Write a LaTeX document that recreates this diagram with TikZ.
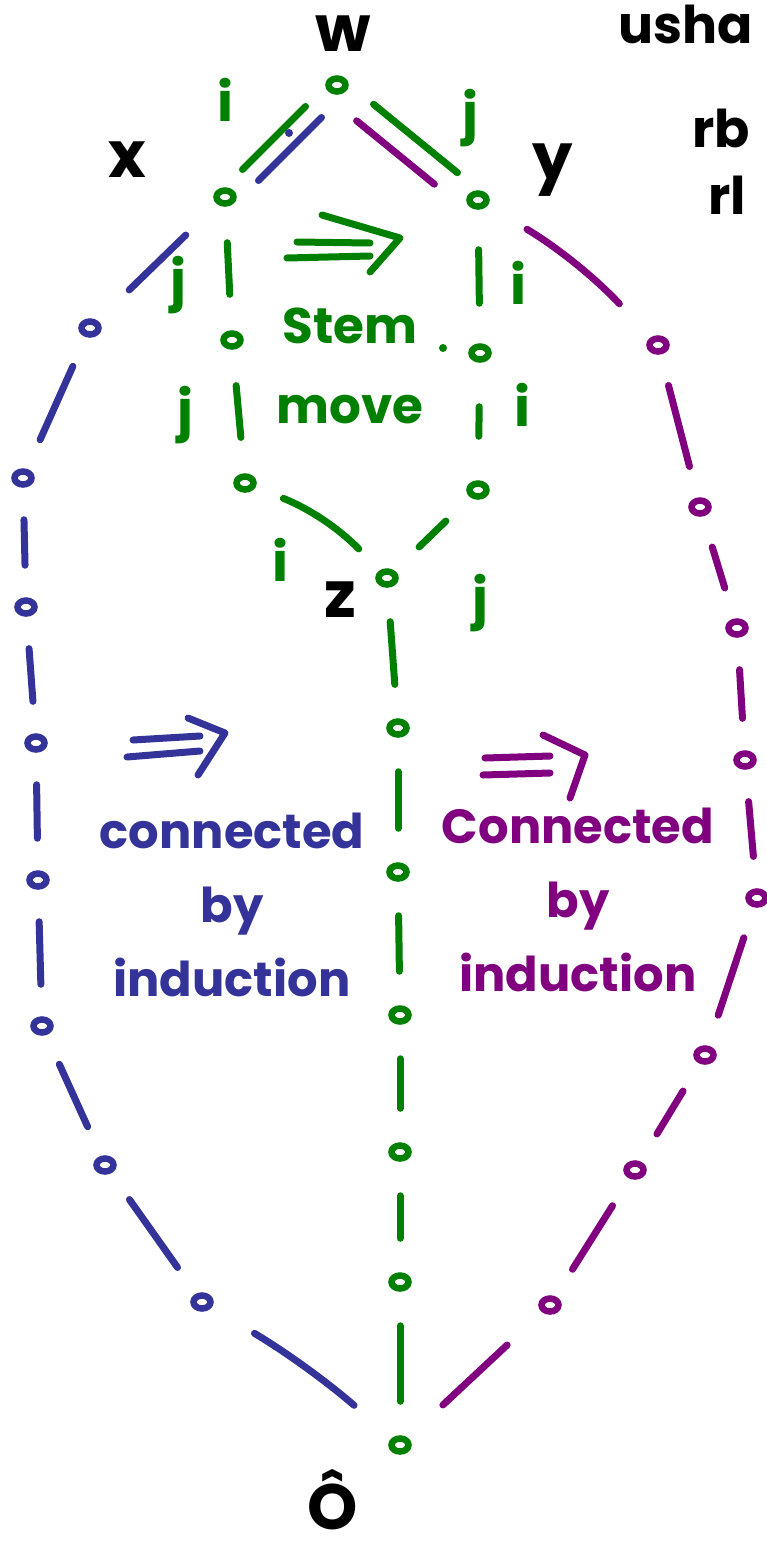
\documentclass[tikz,border=0pt]{standalone}
\usepackage{fontspec}
\setmainfont{Poppins}
\definecolor{hgreen}{RGB}{0,128,0}
\definecolor{hblue}{RGB}{51,51,153}
\definecolor{hpurple}{RGB}{128,0,128}
\tikzset{
  pen/.style={line width=7pt, line cap=round, line join=round},
  dotn/.style={ellipse, draw, line width=6.5pt, minimum width=17pt, minimum height=13pt, inner sep=0pt},
  seg/.style={pen, shorten <=#1, shorten >=#1},
  seg/.default=34pt,
  lbl/.style={font=\fontsize{54}{56}\selectfont\bfseries, inner sep=0pt},
  big/.style={font=\fontsize{64}{66}\selectfont\bfseries, inner sep=0pt},
  tiny/.style={font=\fontsize{52}{56}\selectfont\bfseries, inner sep=0pt},
  word/.style={font=\fontsize{48}{74}\selectfont\bfseries, inner sep=0pt, align=center},
}
\usetikzlibrary{shapes.geometric}
\begin{document}
\begin{tikzpicture}[x=1pt,y=-1pt]
\useasboundingbox (0,0) rectangle (767,1550);
\clip (0,0) rectangle (767,1550);
\fill[white] (0,0) rectangle (767,1550);
% nodes
\node[dotn, hgreen] (w) at (337,85) {};
\node[dotn, hgreen] (x) at (225,197) {};
\node[dotn, hgreen] (y) at (478,200) {};
\node[dotn, hgreen] (l1) at (232,340) {};
\node[dotn, hgreen] (l2) at (245,483) {};
\node[dotn, hgreen] (r1) at (480,353) {};
\node[dotn, hgreen] (r2) at (478,490) {};
\node[dotn, hgreen] (z) at (387,578) {};
\node[dotn, hgreen] (c1) at (398,728) {};
\node[dotn, hgreen] (c2) at (398,872) {};
\node[dotn, hgreen] (c3) at (400,1015) {};
\node[dotn, hgreen] (c4) at (400,1152) {};
\node[dotn, hgreen] (c5) at (400,1282) {};
\node[dotn, hgreen] (bot) at (400,1445) {};
\node[dotn, hblue] (b1) at (90,328) {};
\node[dotn, hblue] (b2) at (23,478) {};
\node[dotn, hblue] (b3) at (26,607) {};
\node[dotn, hblue] (b4) at (36,743) {};
\node[dotn, hblue] (b5) at (38,880) {};
\node[dotn, hblue] (b6) at (42,1026) {};
\node[dotn, hblue] (b7) at (105,1165) {};
\node[dotn, hblue] (b8) at (202,1302) {};
\node[dotn, hpurple] (p1) at (658,345) {};
\node[dotn, hpurple] (p2) at (700,507) {};
\node[dotn, hpurple] (p3) at (737,628) {};
\node[dotn, hpurple] (p4) at (745,760) {};
\node[dotn, hpurple] (p5) at (757,898) {};
\node[dotn, hpurple] (p6) at (705,1055) {};
\node[dotn, hpurple] (p7) at (635,1170) {};
\node[dotn, hpurple] (p8) at (550,1305) {};
% top edges (doubled)
\draw[seg=24pt, hgreen, transform canvas={shift={(-7pt,3pt)}}] (w) -- (x);
\draw[seg=24pt, hblue, transform canvas={shift={(9pt,-8pt)}}] (w) -- (x);
\fill[hblue] (289,133) circle (4);
\draw[seg=26pt, hgreen, transform canvas={shift={(8pt,4pt)}}] (w) -- (y);
\draw[seg=30pt, hpurple, transform canvas={shift={(-12pt,-10pt)}}] (w) -- (y);
% hexagon
\draw[seg=36pt, hgreen] (x) -- (l1);
\draw[seg=36pt, hgreen] (l1) -- (l2);
\draw[seg=40pt, hgreen] (y) -- (r1);
\draw[seg=44pt, hgreen] (r1) -- (r2);
\draw[seg=30pt, hgreen] (l2) to[bend left=12] (z);
\draw[seg=34pt, hgreen] (r2) -- (z);
% center chain
\foreach \a/\b in {z/c1,c1/c2,c2/c3,c3/c4,c4/c5,c5/bot}
  \draw[seg=34pt, hgreen] (\a) -- (\b);
% blue chain
\draw[seg=44pt, hblue] (x) -- (b1);
\foreach \a/\b in {b1/b2,b2/b3,b3/b4,b4/b5,b5/b6,b6/b7,b7/b8}
  \draw[seg=32pt, hblue] (\a) -- (\b);
\draw[seg=50pt, hblue] (b8) to[bend left=5] (bot);
% purple chain
\draw[seg=46pt, hpurple] (y) to[bend left=8] (p1);
\foreach \a/\b in {p1/p2,p2/p3,p3/p4,p4/p5,p5/p6,p6/p7,p7/p8}
  \draw[seg=32pt, hpurple] (\a) -- (\b);
\draw[seg=48pt, hpurple] (p8) -- (bot);
% vertex labels
\node[big] (lw) at (343,34) {w};
\node[big] (lx) at (127,160) {x};
\node[big] (ly) at (553,170) {y};
\node[big] (lz) at (340,600) {z};
\node[big] (l0) at (333,1500) {Ô};
% edge labels
\node[lbl, hgreen] (e1) at (225,100) {i};
\node[lbl, hgreen] (e2) at (470,118) {j};
\node[lbl, hgreen] (e3) at (178,285) {j};
\node[lbl, hgreen] (e4) at (185,415) {j};
\node[lbl, hgreen] (e5) at (518,283) {i};
\node[lbl, hgreen] (e6) at (522,405) {i};
\node[lbl, hgreen] (e7) at (280,560) {i};
\node[lbl, hgreen] (e8) at (480,603) {j};
\fill[hgreen] (443,348) circle (4);
% stem move
\draw[pen, hgreen] (297,242) -- (370,243);
\draw[pen, hgreen] (287,258) -- (370,256);
\draw[pen, hgreen] (322,215) -- (400,238) -- (370,272);
\node[word, hgreen, font=\fontsize{50}{80}\selectfont\bfseries] (sm) at (350,366) {Stem\\move};
% left arrow and text
\draw[pen, hblue] (133,740) -- (200,736);
\draw[pen, hblue] (127,757) -- (200,751);
\draw[pen, hblue] (188,718) -- (225,733) -- (198,775);
\node[word, hblue] (ct) at (232,905) {connected\\by\\induction};
% right arrow and text
\draw[pen, hpurple] (485,758) -- (550,756);
\draw[pen, hpurple] (483,775) -- (550,773);
\draw[pen, hpurple] (543,735) -- (585,755) -- (570,798);
\node[word, hpurple] (cr) at (578,900) {Connected\\by\\induction};
% text at right edge
\node[tiny, anchor=west] (t1) at (618,24) {usha};
\node[tiny, anchor=west] (t2) at (692,128) {rb};
\node[tiny, anchor=west] (t3) at (708,195) {rl};
\end{tikzpicture}
\end{document}
